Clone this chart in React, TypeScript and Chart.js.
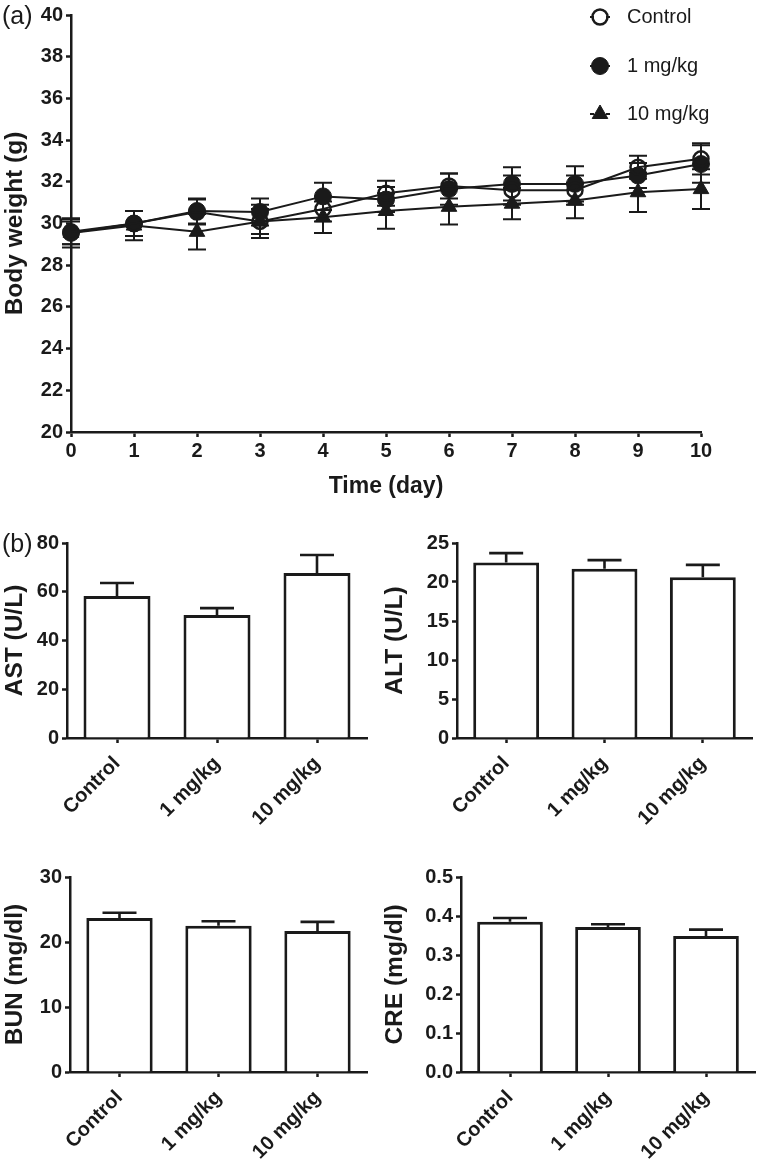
import React, { useEffect, useRef } from 'react';
import { Chart, registerables } from 'chart.js';
import { drawPoint } from 'chart.js/helpers';

Chart.register(...registerables);

const FONT = "'Liberation Sans', Arial, Helvetica, sans-serif";
const INK = '#1a1a1a';

// ---------- Panel (a): body weight ----------
const days = ['0', '1', '2', '3', '4', '5', '6', '7', '8', '9', '10'];
const seriesNames = ['Control', '1 mg/kg', '10 mg/kg'];
const controlWeight = [29.6, 30.0, 30.55, 30.1, 30.7, 31.45, 31.8, 31.6, 31.6, 32.7, 33.1];
const controlWeightErr = [0.6, 0.6, 0.6, 0.8, 0.6, 0.6, 0.6, 0.7, 0.7, 0.55, 0.75];
const lowDoseWeight = [29.55, 30.0, 30.6, 30.55, 31.3, 31.15, 31.65, 31.9, 31.9, 32.3, 32.85];
const lowDoseWeightErr = [0.55, 0.6, 0.6, 0.65, 0.65, 0.6, 0.75, 0.8, 0.85, 0.6, 0.9];
const highDoseWeight = [29.55, 29.9, 29.6, 30.1, 30.3, 30.6, 30.8, 30.95, 31.1, 31.5, 31.65];
const highDoseWeightErr = [0.7, 0.7, 0.85, 0.6, 0.75, 0.85, 0.85, 0.75, 0.85, 0.95, 0.95];

// ---------- Panel (b): serum biochemistry ----------
const groups = ['Control', '1 mg/kg', '10 mg/kg'];
const astValues = [58.3, 50.5, 67.7];
const astErr = [5.3, 2.8, 7.4];
const altValues = [22.5, 21.7, 20.6];
const altErr = [1.2, 1.1, 1.6];
const bunValues = [23.7, 22.5, 21.7];
const bunErr = [0.8, 0.7, 1.4];
const creValues = [0.385, 0.372, 0.349];
const creErr = [0.01, 0.007, 0.016];

const tickFont = { family: FONT, size: 20, weight: 'bold' as const };
const titleFont = { family: FONT, size: 23, weight: 'bold' as const };
const yTitleFont = { family: FONT, size: 24.5, weight: 'bold' as const };

const errorBarPlugin = {
  id: 'errorBars',
  beforeDatasetsDraw(chart: any) {
    if (chart.config.type !== 'line') return;
    drawErrors(chart, true, 9, 2);
  },
  afterDatasetsDraw(chart: any) {
    if (chart.config.type !== 'bar') return;
    drawErrors(chart, false, 17, 2.6);
  },
};

function drawErrors(chart: any, both: boolean, cap: number, lw: number) {
  const ctx = chart.ctx;
  const yScale = chart.scales.y;
  ctx.save();
  ctx.strokeStyle = INK;
  ctx.lineWidth = lw;
  ctx.lineCap = 'butt';
  chart.data.datasets.forEach((ds: any, di: number) => {
    const meta = chart.getDatasetMeta(di);
    const errs: number[] = ds.errors || [];
    meta.data.forEach((el: any, i: number) => {
      const v = ds.data[i];
      const e = errs[i];
      if (v == null || e == null) return;
      const x = el.x;
      const yHi = yScale.getPixelForValue(v + e);
      const yLo = both ? yScale.getPixelForValue(v - e) : yScale.getPixelForValue(v);
      ctx.beginPath();
      ctx.moveTo(x, yLo);
      ctx.lineTo(x, yHi);
      ctx.moveTo(x - cap, yHi);
      ctx.lineTo(x + cap, yHi);
      if (both) {
        ctx.moveTo(x - cap, yLo);
        ctx.lineTo(x + cap, yLo);
      }
      ctx.stroke();
    });
  });
  ctx.restore();
}

const legendPlugin = {
  id: 'customLegend',
  afterDraw(chart: any) {
    if (chart.config.type !== 'line') return;
    const ctx = chart.ctx;
    const rows = [17, 66, 114];
    const mx = 600;
    ctx.save();
    chart.data.datasets.forEach((ds: any, i: number) => {
      const y = rows[i];
      ctx.strokeStyle = INK;
      ctx.lineWidth = 2;
      ctx.beginPath();
      ctx.moveTo(mx - 10, y);
      ctx.lineTo(mx - 6, y);
      ctx.moveTo(mx + 6, y);
      ctx.lineTo(mx + 10, y);
      ctx.stroke();
      ctx.fillStyle = ds.pointBackgroundColor;
      ctx.strokeStyle = ds.pointBorderColor;
      ctx.lineWidth = ds.pointBorderWidth;
      drawPoint(ctx, { pointStyle: ds.pointStyle, radius: ds.pointRadius, rotation: 0, borderWidth: ds.pointBorderWidth }, mx, y);
      ctx.fillStyle = INK;
      ctx.font = `20px ${FONT}`;
      ctx.textBaseline = 'middle';
      ctx.textAlign = 'left';
      ctx.fillText(ds.label, 627, y);
    });
    ctx.restore();
  },
};

function axisCommon() {
  return {
    border: { display: true, color: INK, width: 2.5 },
    grid: { display: true, drawOnChartArea: false, drawTicks: true, tickLength: 5, tickWidth: 2.5, tickColor: INK },
  };
}

function LineChart() {
  const ref = useRef<HTMLCanvasElement>(null);
  useEffect(() => {
    const seriesData = [controlWeight, lowDoseWeight, highDoseWeight];
    const seriesErr = [controlWeightErr, lowDoseWeightErr, highDoseWeightErr];
    const styles = [
      { pointStyle: 'circle', pointRadius: 7.5, pointBorderWidth: 2.5, pointBackgroundColor: 'rgba(0,0,0,0)' },
      { pointStyle: 'circle', pointRadius: 8.5, pointBorderWidth: 1, pointBackgroundColor: INK },
      { pointStyle: 'triangle', pointRadius: 9, pointBorderWidth: 1, pointBackgroundColor: INK },
    ];
    const chart = new Chart(ref.current!, {
      type: 'line',
      data: {
        labels: days,
        datasets: seriesNames.map((name, i) => ({
          label: name,
          data: seriesData[i],
          errors: seriesErr[i],
          borderColor: INK,
          borderWidth: 2,
          pointBorderColor: INK,
          fill: false,
          tension: 0,
          ...styles[i],
        })) as any,
      },
      options: {
        animation: false,
        responsive: false,
        devicePixelRatio: 1,
        layout: { padding: { left: 0, right: 59, top: 12, bottom: 0 } },
        plugins: { legend: { display: false }, tooltip: { enabled: false } },
        scales: {
          x: {
            type: 'category',
            offset: false,
            ...axisCommon(),
            ticks: { color: INK, font: tickFont, padding: 2, maxRotation: 0, autoSkip: false },
            title: { display: true, text: 'Time (day)', color: INK, font: titleFont, padding: { top: 0, bottom: 20 } },
            afterFit: (s: any) => { s.height = 88; },
          },
          y: {
            min: 20,
            max: 40,
            ...axisCommon(),
            ticks: { color: INK, font: tickFont, padding: 3, stepSize: 2 },
            title: { display: true, text: 'Body weight (g)', color: INK, font: yTitleFont, padding: { top: 1, bottom: 0 } },
            afterFit: (s: any) => { s.width = 71; },
          },
        } as any,
      },
      plugins: [errorBarPlugin, legendPlugin],
    });
    return () => chart.destroy();
  }, []);
  return <canvas ref={ref} width={760} height={520} style={{ position: 'absolute', left: 0, top: 0, width: 760, height: 520 }} />;
}

type BarProps = {
  left: number; top: number; width: number; height: number;
  values: number[]; errors: number[]; max: number; step: number; title: string;
  yWidth: number; padTop: number; padRight: number; xHeight: number; decimals?: number;
};

function BarChart(p: BarProps) {
  const ref = useRef<HTMLCanvasElement>(null);
  useEffect(() => {
    const chart = new Chart(ref.current!, {
      type: 'bar',
      data: {
        labels: groups,
        datasets: [{
          data: p.values,
          errors: p.errors,
          backgroundColor: '#ffffff',
          borderColor: INK,
          borderWidth: 3,
          barPercentage: 0.67,
          categoryPercentage: 1,
        } as any],
      },
      options: {
        animation: false,
        responsive: false,
        devicePixelRatio: 1,
        layout: { padding: { left: 0, right: p.padRight, top: p.padTop, bottom: 0 } },
        plugins: { legend: { display: false }, tooltip: { enabled: false } },
        scales: {
          x: {
            type: 'category',
            offset: true,
            ...axisCommon(),
            grid: { ...axisCommon().grid, offset: false },
            ticks: { color: INK, font: tickFont, padding: 9, maxRotation: 45, minRotation: 45, autoSkip: false },
            afterFit: (s: any) => { s.height = p.xHeight; },
          },
          y: {
            min: 0,
            max: p.max,
            ...axisCommon(),
            ticks: {
              color: INK, font: tickFont, padding: 3, stepSize: p.step,
              callback: (v: any) => (p.decimals ? Number(v).toFixed(p.decimals) : String(Math.round(Number(v)))),
            },
            title: { display: true, text: p.title, color: INK, font: yTitleFont, padding: { top: 1, bottom: 0 } },
            afterFit: (s: any) => { s.width = p.yWidth; },
          },
        } as any,
      },
      plugins: [errorBarPlugin],
    });
    return () => chart.destroy();
  }, []);
  return (
    <canvas
      ref={ref}
      width={p.width}
      height={p.height}
      style={{ position: 'absolute', left: p.left, top: p.top, width: p.width, height: p.height }}
    />
  );
}

const panelLabel: React.CSSProperties = {
  position: 'absolute', left: 2, fontFamily: FONT, fontSize: 25, lineHeight: '25px', color: INK,
};

export default function App() {
  return (
    <div style={{ position: 'absolute', left: 0, top: 0, width: 760, height: 1164, background: '#fff', overflow: 'hidden' }}>
      <LineChart />
      <BarChart left={0} top={520} width={380} height={320} values={astValues} errors={astErr} max={80} step={20}
        title="AST (U/L)" yWidth={67} padTop={23} padRight={13} xHeight={102} />
      <BarChart left={380} top={520} width={380} height={320} values={altValues} errors={altErr} max={25} step={5}
        title="ALT (U/L)" yWidth={77} padTop={23} padRight={8} xHeight={102} />
      <BarChart left={0} top={840} width={380} height={324} values={bunValues} errors={bunErr} max={30} step={10}
        title="BUN (mg/dl)" yWidth={70} padTop={37} padRight={13} xHeight={92} />
      <BarChart left={380} top={840} width={380} height={324} values={creValues} errors={creErr} max={0.5} step={0.1}
        title="CRE (mg/dl)" yWidth={81} padTop={37} padRight={5} xHeight={92} decimals={1} />
      <div style={{ ...panelLabel, top: 3 }}>(a)</div>
      <div style={{ ...panelLabel, top: 531 }}>(b)</div>
    </div>
  );
}
